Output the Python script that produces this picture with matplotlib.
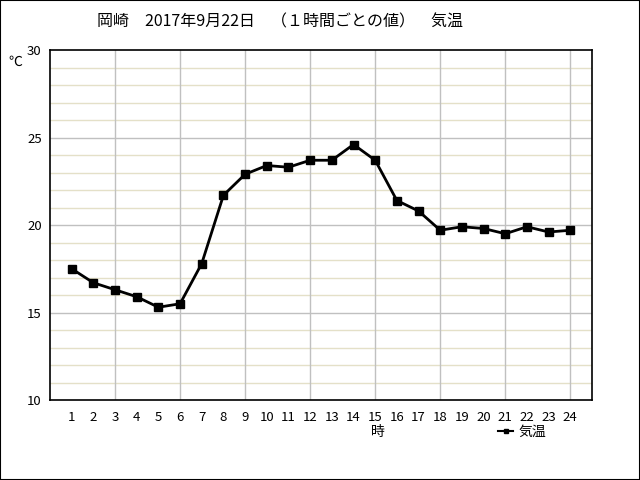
import matplotlib
matplotlib.use("Agg")
import matplotlib.pyplot as plt
from matplotlib.patches import Rectangle

plt.rcParams['font.family'] = ['Noto Sans CJK JP', 'DejaVu Sans']

# Hourly temperature (deg C), Okazaki 2017-09-22
hours = list(range(1, 25))
temps = [17.5, 16.7, 16.3, 15.9, 15.3, 15.5, 17.8, 21.7, 22.9, 23.4, 23.3, 23.7,
         23.7, 24.6, 23.7, 21.4, 20.8, 19.7, 19.9, 19.8, 19.5, 19.9, 19.6, 19.7]
title = "岡崎　2017年9月22日　（１時間ごとの値）　気温"

fig = plt.figure(figsize=(6.4, 4.8), dpi=100)
fig.patches.append(Rectangle((0, 0), 1, 1, transform=fig.transFigure,
                             fill=False, edgecolor='black', linewidth=1.5))
ax = fig.add_axes([50/640, 80/480, 542/640, 350/480])

# grid lines
for y in range(11, 30):
    col = '#c0c0c0' if y % 5 == 0 else '#e4e0c8'
    ax.axhline(y, color=col, linewidth=1, zorder=0)
for x in range(3, 25, 3):
    ax.axvline(x, color='#c0c0c0', linewidth=1, zorder=0)

ax.plot(hours, temps, color='black', linewidth=2, marker='s', markersize=6,
        label='気温', zorder=3)

ax.set_xlim(0, 25)
ax.set_ylim(10, 30)
ax.set_xticks(hours)
ax.set_yticks([10, 15, 20, 25, 30])
ax.tick_params(length=0, labelsize=9.5, pad=8)
ax.tick_params(axis='y', pad=6)
for s in ax.spines.values():
    s.set_linewidth(1.2)

fig.text(280/640, 1 - 22/480, title, ha='center', va='center', fontsize=11.5)
fig.text(15/640, 1 - 62/480, '℃', ha='center', va='center', fontsize=10)
fig.text(378/640, 1 - 432/480, '時', ha='center', va='center', fontsize=10)

leg = ax.legend(loc='center left', bbox_to_anchor=(498/640, 1 - 432/480),
                bbox_transform=fig.transFigure, frameon=False,
                fontsize=10, handlelength=1.1, markerscale=0.5, handletextpad=0.4,
                borderpad=0, borderaxespad=0)
for h in leg.legend_handles:
    h.set_linewidth(1.5)

fig.savefig('out.png', dpi=100)
